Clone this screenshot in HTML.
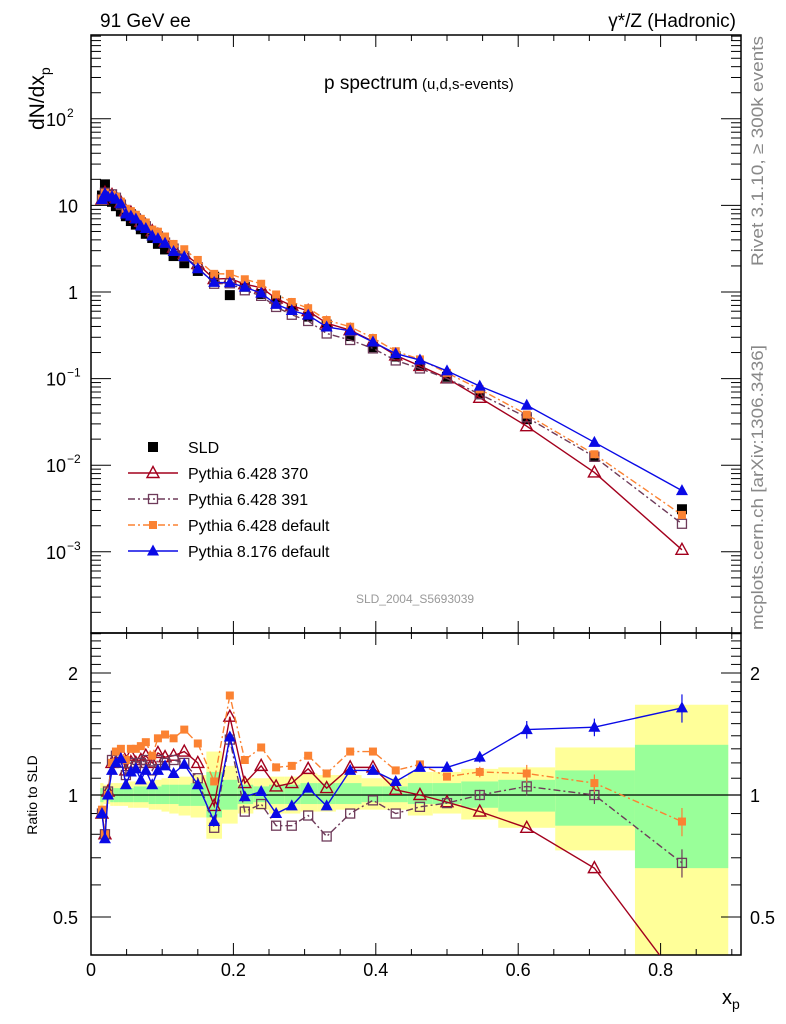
<!DOCTYPE html>
<html><head><meta charset="utf-8"><style>
body{margin:0;background:#fff;}
svg{display:block;font-family:"Liberation Sans",sans-serif;}
</style></head><body>
<svg id="chart" width="786" height="1024" viewBox="0 0 786 1024" xmlns="http://www.w3.org/2000/svg">
<text x="100" y="27" font-size="19">91 GeV ee</text>
<text x="736" y="27" font-size="19" text-anchor="end">γ*/Z (Hadronic)</text>
<text x="418" y="89" font-size="19" text-anchor="end">p spectrum</text>
<text x="422" y="89" font-size="15">(u,d,s-events)</text>
<text transform="translate(44,130) rotate(-90)" font-size="21">dN/dx<tspan font-size="14" dy="6">p</tspan></text>
<text transform="translate(37,795) rotate(-90)" font-size="14" text-anchor="middle">Ratio to SLD</text>
<text x="722" y="1004" font-size="20">x<tspan font-size="14" dy="5">p</tspan></text>
<text transform="translate(763,266) rotate(-90)" font-size="16.5" textLength="230" lengthAdjust="spacingAndGlyphs" fill="#888">Rivet 3.1.10, ≥ 300k events</text>
<text transform="translate(763,630) rotate(-90)" font-size="16.5" textLength="285" lengthAdjust="spacingAndGlyphs" fill="#888">mcplots.cern.ch [arXiv:1306.3436]</text>
<text x="415" y="603" font-size="12" fill="#999" text-anchor="middle">SLD_2004_S5693039</text>
<g id="bands"></g><g id="ticks"></g><g id="series"></g><g id="legend"></g>
</svg>
<script>
const xs=[0.0154,0.0196,0.0239,0.0295,0.035,0.042,0.049,0.056,0.063,0.070,0.077,0.086,0.094,0.104,0.116,0.131,0.150,0.173,0.195,0.216,0.239,0.260,0.282,0.305,0.331,0.364,0.396,0.428,0.462,0.500,0.546,0.612,0.707,0.830];
const sld=[13,17.5,12.5,11,9.8,8.5,7.5,6.6,6.0,5.3,4.7,4.2,3.6,3.1,2.6,2.15,1.75,1.5,0.92,1.15,0.95,0.8,0.65,0.52,0.42,0.31,0.23,0.18,0.14,0.105,0.066,0.034,0.0125,0.0031];
const r370=[0.90,0.80,1.02,1.2,1.25,1.27,1.15,1.25,1.2,1.22,1.25,1.2,1.27,1.24,1.25,1.28,1.2,0.94,1.56,1.07,1.18,1.05,1.07,1.16,1.04,1.17,1.17,1.03,1.0,0.96,0.91,0.83,0.66,0.34];
const r391=[0.90,0.80,1.02,1.22,1.25,1.2,1.12,1.2,1.18,1.2,1.22,1.15,1.22,1.2,1.22,1.2,1.1,0.83,1.37,0.91,0.95,0.84,0.84,0.89,0.79,0.9,0.97,0.90,0.935,0.955,1.0,1.05,1.0,0.68];
const rdef6=[0.92,0.80,1.0,1.2,1.28,1.3,1.22,1.3,1.3,1.32,1.35,1.25,1.38,1.41,1.38,1.45,1.34,1.08,1.76,1.22,1.31,1.17,1.18,1.25,1.13,1.28,1.28,1.15,1.19,1.11,1.14,1.13,1.07,0.86];
const rdef8=[0.90,0.78,1.0,1.15,1.2,1.23,1.06,1.14,1.16,1.09,1.15,1.06,1.15,1.18,1.13,1.19,1.06,0.86,1.39,0.99,1.02,0.90,0.94,1.04,0.94,1.15,1.15,1.08,1.17,1.17,1.24,1.45,1.47,1.64];
const binEdges=[0.013,0.0175,0.022,0.027,0.032,0.038,0.045,0.052,0.06,0.066,0.073,0.081,0.09,0.099,0.11,0.123,0.14,0.162,0.184,0.206,0.228,0.25,0.272,0.294,0.318,0.344,0.38,0.41,0.445,0.48,0.52,0.572,0.652,0.764,0.895];
const yelLo=[0.93,0.95,0.95,0.94,0.94,0.94,0.94,0.93,0.93,0.93,0.93,0.92,0.92,0.91,0.9,0.89,0.88,0.78,0.85,0.9,0.92,0.9,0.9,0.91,0.91,0.92,0.92,0.92,0.89,0.9,0.87,0.83,0.73,0.3];
const yelHi=[1.07,1.06,1.06,1.07,1.07,1.07,1.07,1.08,1.08,1.08,1.08,1.08,1.09,1.1,1.1,1.11,1.12,1.28,1.18,1.1,1.1,1.11,1.11,1.13,1.12,1.12,1.1,1.1,1.14,1.14,1.16,1.17,1.31,1.67];
const grnLo=[0.96,0.97,0.97,0.96,0.96,0.96,0.96,0.96,0.96,0.96,0.96,0.95,0.95,0.95,0.95,0.94,0.94,0.88,0.92,0.95,0.96,0.95,0.95,0.95,0.95,0.95,0.96,0.96,0.95,0.95,0.93,0.91,0.84,0.66];
const grnHi=[1.04,1.04,1.04,1.04,1.04,1.04,1.04,1.04,1.05,1.05,1.05,1.05,1.05,1.06,1.06,1.06,1.07,1.14,1.09,1.06,1.05,1.06,1.06,1.07,1.07,1.07,1.05,1.05,1.07,1.07,1.08,1.09,1.15,1.33];
const ratioErr=[0.03,0.05,0.05,0.08];

const NS="http://www.w3.org/2000/svg";
const X0=91,X1=741,MT=35,MB=633,RB=955;
const sx=v=>X0+v*712;
const sy=v=>292-86.6*Math.log10(v);
const sr=v=>795-122*Math.log2(v);
function mk(tag,attrs,parent){const e=document.createElementNS(NS,tag);for(const k in attrs)e.setAttribute(k,attrs[k]);parent.appendChild(e);return e;}
const svg=document.getElementById('chart');
const gB=document.getElementById('bands'),gT=document.getElementById('ticks'),gS=document.getElementById('series'),gL=document.getElementById('legend');

const defs=mk('defs',{},svg);
const c1=mk('clipPath',{id:'cm'},defs);mk('rect',{x:X0,y:MT,width:X1-X0,height:MB-MT},c1);
const c2=mk('clipPath',{id:'cr'},defs);mk('rect',{x:X0,y:MB,width:X1-X0,height:RB-MB},c2);
gB.setAttribute('clip-path','url(#cr)');

for(let i=0;i<xs.length;i++){
  const a=sx(binEdges[i]),b=sx(binEdges[i+1]);
  const y=mk('rect',{x:a,y:sr(yelHi[i]),width:b-a,height:sr(yelLo[i])-sr(yelHi[i]),fill:'#ffff99'},gB);
  
  
  const g=mk('rect',{x:a,y:sr(grnHi[i]),width:b-a,height:sr(grnLo[i])-sr(grnHi[i]),fill:'#99ff99'},gB);
  
  
}
mk('line',{x1:X0,x2:X1,y1:sr(1),y2:sr(1),stroke:'#000','stroke-width':1.3},gT);

const f1=mk('rect',{x:X0,y:MT,width:X1-X0,height:MB-MT,fill:'none',stroke:'#000','stroke-width':1.5},gT);


const f2=mk('rect',{x:X0,y:MB,width:X1-X0,height:RB-MB,fill:'none',stroke:'#000','stroke-width':1.5},gT);



function tick(x1,y1,x2,y2){mk('line',{x1,y1,x2,y2,stroke:'#000','stroke-width':1},gT);}
for(let k=0;k<=18;k++){const v=k*0.05;if(v>0.912)break;const x=sx(v);const L=(k%4==0)?12:6;
  tick(x,RB,x,RB-L);tick(x,MT,x,MT+L);tick(x,MB,x,MB-L);tick(x,MB,x,MB+L);
  if(k%4==0){const t=mk('text',{x:x,y:976,'font-size':18,'text-anchor':'middle'},gT);t.textContent=(v===0?'0':v.toFixed(1));
    
    }}
for(let e=-4;e<=2;e++){for(let m=1;m<10;m++){const v=m*Math.pow(10,e);const y=sy(v);if(y<MT||y>MB)continue;const L=m==1?20:10;tick(X0,y,X0+L,y);tick(X1,y,X1-L,y);}}
const decs=[2,1,0,-1,-2,-3];
decs.forEach(e=>{const y=sy(Math.pow(10,e));let t;
  if(e==1){t=mk('text',{x:78,y:y+7,'font-size':18,'text-anchor':'end'},gT);t.textContent='10';}
  else if(e==0){t=mk('text',{x:78,y:y+7,'font-size':18,'text-anchor':'end'},gT);t.textContent='1';}
  else{t=mk('text',{x:46,y:y+7,'font-size':18},gT);t.textContent='10';
    const s=mk('tspan',{dx:1,dy:-9,'font-size':12},t);s.textContent=(e<0?'−':'')+Math.abs(e);}
  
  });
[0.5,0.6,0.7,0.8,0.9,1,1.1,1.2,1.3,1.4,1.5,1.6,1.7,1.8,1.9,2,2.1,2.2,2.3,2.4,2.5].forEach(v=>{const y=sr(v);if(y<MB||y>RB)return;const L=(v==0.5||v==1||v==2)?20:10;tick(X0,y,X0+L,y);tick(X1,y,X1-L,y);});
[[2,'2'],[1,'1'],[0.5,'0.5']].forEach(([v,s])=>{const y=sr(v)+7;
  const a=mk('text',{x:78,y:y,'font-size':18,'text-anchor':'end'},gT);a.textContent=s;
  
  
  const b=mk('text',{x:750,y:y,'font-size':18},gT);b.textContent=s;
  
  });

function marker(type,x,y,color,parent){let e;
  if(type=='sq')e=mk('rect',{x:x-5,y:y-5,width:10,height:10,fill:color},parent);
  else if(type=='osq')e=mk('rect',{x:x-4.5,y:y-4.5,width:9,height:9,fill:'none',stroke:color,'stroke-width':1.3},parent);
  else if(type=='fsq')e=mk('rect',{x:x-4,y:y-4,width:8,height:8,fill:color},parent);
  else if(type=='otri')e=mk('polygon',{points:`${x},${y-6.5} ${x-6},${y+4.5} ${x+6},${y+4.5}`,fill:'none',stroke:color,'stroke-width':1.4},parent);
  else e=mk('polygon',{points:`${x},${y-6.5} ${x-6},${y+4.5} ${x+6},${y+4.5}`,fill:color},parent);
  return e;}
const series=[
 {name:'pythia-6428-370',r:r370,color:'#a3001d',dash:'',m:'otri'},
 {name:'pythia-6428-391',r:r391,color:'#6e3b5a',dash:'7,3,2,3',m:'osq'},
 {name:'pythia-6428-default',r:rdef6,color:'#fb8232',dash:'7,3,2,3',m:'fsq'},
 {name:'pythia-8176-default',r:rdef8,color:'#0a0ae6',dash:'',m:'ftri'}];
const gm=mk('g',{'clip-path':'url(#cm)'},gS), gr=mk('g',{'clip-path':'url(#cr)'},gS);
xs.forEach((x,i)=>{const e=marker('sq',sx(x),sy(sld[i]),'#000',gm);
  
  });
series.forEach(s=>{
  const pm=xs.map((x,i)=>sx(x)+','+sy(sld[i]*s.r[i])).join(' ');
  const l1=mk('polyline',{points:pm,fill:'none',stroke:s.color,'stroke-width':1.4,'stroke-dasharray':s.dash},gm);
  
  
  const pr=xs.map((x,i)=>sx(x)+','+sr(s.r[i])).join(' ');
  const l2=mk('polyline',{points:pr,fill:'none',stroke:s.color,'stroke-width':1.4,'stroke-dasharray':s.dash},gr);
  
  
  xs.forEach((x,i)=>{
    const a=marker(s.m,sx(x),sy(sld[i]*s.r[i]),s.color,gm);
    
    
    const n=xs.length-i;
    if(n<=4 && s.m!='otri'){const er=s.r[i]*ratioErr[4-n];
      mk('line',{x1:sx(x),x2:sx(x),y1:sr(s.r[i]+er),y2:sr(s.r[i]-er),stroke:s.color,'stroke-width':1.2},gr);}
    const b=marker(s.m,sx(x),sr(s.r[i]),s.color,gr);
    
    });
});
const legY=[447,473,499,525,551];
const ls=mk('rect',{x:148,y:legY[0]-5,width:10,height:10,fill:'#000'},gL);


const t0=mk('text',{x:188,y:legY[0]+6,'font-size':16},gL);t0.textContent='SLD';


const labels=['Pythia 6.428 370','Pythia 6.428 391','Pythia 6.428 default','Pythia 8.176 default'];
series.forEach((s,i)=>{const y=legY[i+1];
  mk('line',{x1:128,x2:178,y1:y,y2:y,stroke:s.color,'stroke-width':1.4,'stroke-dasharray':s.dash},gL);
  const m=marker(s.m,153,y,s.color,gL);
  
  
  const t=mk('text',{x:188,y:y+6,'font-size':16},gL);t.textContent=labels[i];
  
  });
</script>
</body></html>
